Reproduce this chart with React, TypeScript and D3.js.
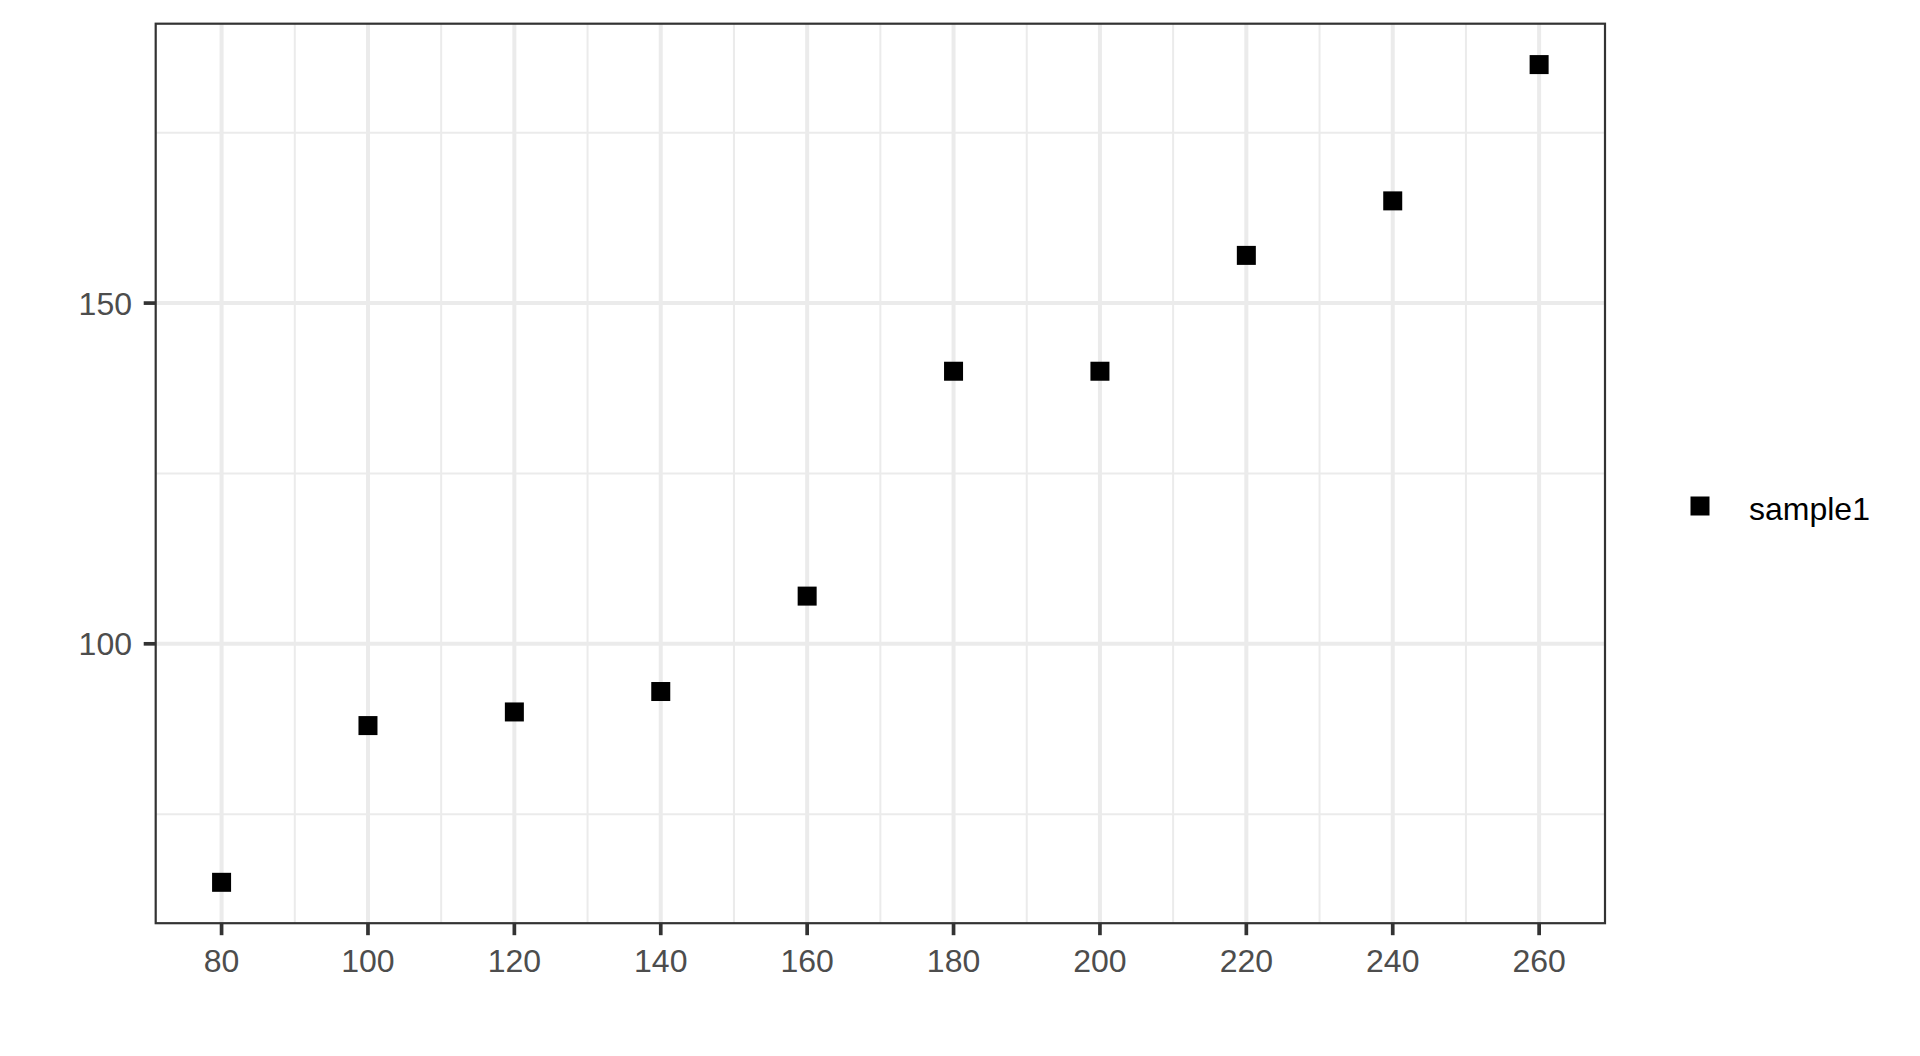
import React from "react";
import * as d3 from "d3";

const xValues = [80, 100, 120, 140, 160, 180, 200, 220, 240, 260];
const yValues = [65, 88, 90, 93, 107, 140, 140, 157, 165, 185];
const xTicks = [80, 100, 120, 140, 160, 180, 200, 220, 240, 260];
const xMinor = [90, 110, 130, 150, 170, 190, 210, 230, 250];
const yTicks = [100, 150];
const yMinor = [75, 125, 175];
const seriesName = "sample1";

export default function App() {
  const W = 1920, H = 1056;
  const left = 155.7, right = 1605, top = 23.7, bottom = 923.2;
  const xExt = d3.extent(xValues) as [number, number];
  const yExt = d3.extent(yValues) as [number, number];
  const xPad = (xExt[1] - xExt[0]) * 0.05;
  const yPad = (yExt[1] - yExt[0]) * 0.05;
  const x = d3.scaleLinear().domain([xExt[0] - xPad, xExt[1] + xPad]).range([left, right]);
  const y = d3.scaleLinear().domain([yExt[0] - yPad, yExt[1] + yPad]).range([bottom, top]);
  const grid = "#EBEBEB";
  const sq = 19;
  return (
    <svg width={W} height={H} style={{ position: "absolute", left: 0, top: 0, display: "block" }}
      fontFamily="'Liberation Sans', Arial, sans-serif">
      <rect x={0} y={0} width={W} height={H} fill="#fff" />
      {xMinor.map((v) => (
        <line key={"xm" + v} x1={x(v)} x2={x(v)} y1={top} y2={bottom} stroke={grid} strokeWidth={2} />
      ))}
      {yMinor.map((v) => (
        <line key={"ym" + v} x1={left} x2={right} y1={y(v)} y2={y(v)} stroke={grid} strokeWidth={2} />
      ))}
      {xTicks.map((v) => (
        <line key={"xg" + v} x1={x(v)} x2={x(v)} y1={top} y2={bottom} stroke={grid} strokeWidth={4} />
      ))}
      {yTicks.map((v) => (
        <line key={"yg" + v} x1={left} x2={right} y1={y(v)} y2={y(v)} stroke={grid} strokeWidth={4} />
      ))}
      {xValues.map((v, i) => (
        <rect key={"p" + i} x={x(v) - sq / 2} y={y(yValues[i]) - sq / 2} width={sq} height={sq} fill="#000" />
      ))}
      <rect x={left} y={top} width={right - left} height={bottom - top} fill="none" stroke="#333333" strokeWidth={2.2} />
      {xTicks.map((v) => (
        <g key={"xt" + v}>
          <line x1={x(v)} x2={x(v)} y1={bottom} y2={bottom + 12} stroke="#333333" strokeWidth={3.7} />
          <text x={x(v)} y={972} textAnchor="middle" fontSize={32} fill="#4D4D4D">{v}</text>
        </g>
      ))}
      {yTicks.map((v) => (
        <g key={"yt" + v}>
          <line x1={left - 12} x2={left} y1={y(v)} y2={y(v)} stroke="#333333" strokeWidth={3.7} />
          <text x={132} y={y(v)} dy="0.36em" textAnchor="end" fontSize={32} fill="#4D4D4D">{v}</text>
        </g>
      ))}
      <rect x={1700 - sq / 2} y={506 - sq / 2} width={sq} height={sq} fill="#000" />
      <text x={1749} y={519.5} fontSize={32} fill="#000">{seriesName}</text>
    </svg>
  );
}
